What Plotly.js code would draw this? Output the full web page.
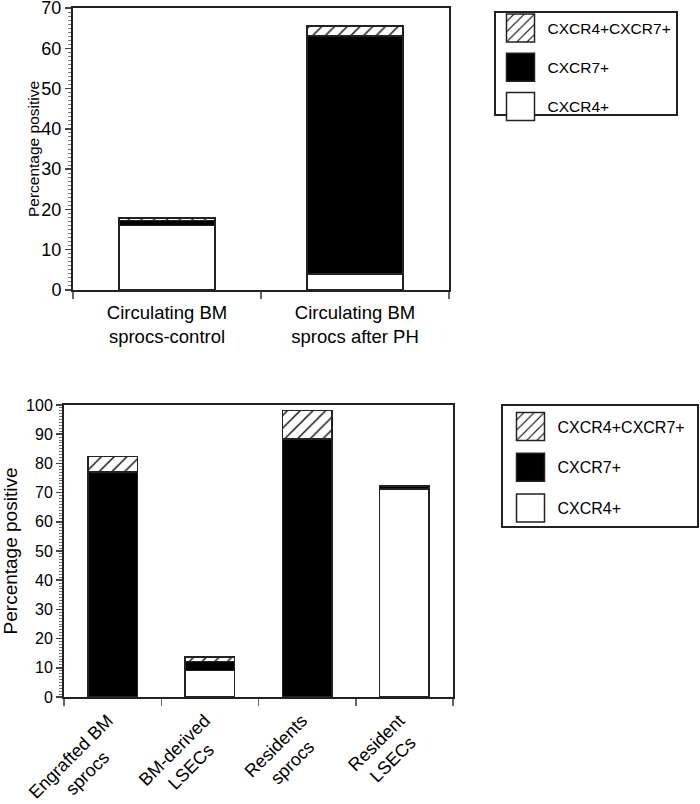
<!DOCTYPE html>
<html>
<head>
<meta charset="utf-8">
<script src="https://cdn.plot.ly/plotly-3.0.1.min.js"></script>
<style>html,body{margin:0;padding:0;background:#fff;}#chart{width:700px;height:804px;}</style>
</head>
<body>
<div id="chart"></div>
<script>
// ---- data ----
var topCategories = ['Circulating BM<br>sprocs-control', 'Circulating BM<br>sprocs after PH'];
var topCXCR4 = [16, 4];
var topCXCR7 = [1.2, 59];
var topBoth = [0.7, 2.5];

var bottomCategories = ['Engrafted BM<br>sprocs', 'BM-derived<br>LSECs', 'Residents<br>sprocs', 'Resident<br>LSECs'];
var bottomCXCR4 = [0, 9, 0, 71.3];
var bottomCXCR7 = [77, 3.2, 88.4, 0.9];
var bottomBoth = [5.3, 1.5, 9.7, 0.3];

var seriesNames = ['CXCR4+', 'CXCR7+', 'CXCR4+CXCR7+'];

// ---- styles ----
var FONT = 'Liberation Sans, Arial, Helvetica, sans-serif';
var lineCol = '#222';
function barTrace(x, y, name, kind, xa, ya, legend, rank) {
  var marker = {color: '#ffffff', line: {color: lineCol, width: 1.5}};
  if (kind === 'black') marker.color = '#000000';
  if (kind === 'hatch') marker.pattern = {shape: '/', size: 9, solidity: 0.15, fgcolor: '#000', bgcolor: '#fff', fillmode: 'replace'};
  return {type: 'bar', x: x, y: y, name: name, marker: marker, xaxis: xa, yaxis: ya,
          legend: legend, legendgroup: legend + name, legendrank: rank, hoverinfo: 'skip'};
}

var data = [
  barTrace(topCategories, topCXCR4, seriesNames[0], 'white', 'x', 'y', 'legend', 3),
  barTrace(topCategories, topCXCR7, seriesNames[1], 'black', 'x', 'y', 'legend', 2),
  barTrace(topCategories, topBoth, seriesNames[2], 'hatch', 'x', 'y', 'legend', 1),
  barTrace(bottomCategories, bottomCXCR4, seriesNames[0], 'white', 'x2', 'y2', 'legend2', 3),
  barTrace(bottomCategories, bottomCXCR7, seriesNames[1], 'black', 'x2', 'y2', 'legend2', 2),
  barTrace(bottomCategories, bottomBoth, seriesNames[2], 'hatch', 'x2', 'y2', 'legend2', 1)
];

var W = 700, H = 804;
function xd(a, b) { return [a / W, b / W]; }
function yd(top, bottom) { return [1 - bottom / H, 1 - top / H]; }

var yMinor = {dtick: 1, ticklen: 3, tickcolor: '#777', ticks: 'outside', tickwidth: 1};
var layout = {
  width: W, height: H,
  margin: {l: 0, r: 0, t: 0, b: 0, autoexpand: false},
  paper_bgcolor: '#fff', plot_bgcolor: '#fff',
  font: {family: FONT, color: '#000'},
  barmode: 'stack',
  bargap: 0.49,
  showlegend: true,
  xaxis: {domain: xd(73, 449), anchor: 'y', type: 'category', range: [-0.5, 1.5],
          showline: true, linecolor: lineCol, linewidth: 2, mirror: true,
          ticks: 'outside', tickson: 'boundaries', ticklen: 7, tickcolor: '#666', tickwidth: 1.5,
          ticklabelstandoff: 5,
          tickfont: {size: 18.5, family: FONT}, showgrid: false, zeroline: false},
  yaxis: {domain: yd(8, 290), anchor: 'x', range: [0, 70], dtick: 10,
          showline: true, linecolor: lineCol, linewidth: 2, mirror: true,
          ticks: 'outside', ticklen: 6, tickcolor: '#444', tickwidth: 1.5, minor: yMinor,
          ticklabeloverflow: 'allow',
          tickfont: {size: 18, family: FONT}, showgrid: false, zeroline: false,
          title: {text: 'Percentage positive', font: {size: 15.5, family: FONT}}},
  xaxis2: {domain: xd(64, 453), anchor: 'y2', type: 'category', range: [-0.5, 3.5],
          showline: true, linecolor: lineCol, linewidth: 2, mirror: true,
          ticks: 'outside', tickson: 'boundaries', ticklen: 7, tickcolor: '#666', tickwidth: 1.5,
          tickangle: -45, tickfont: {size: 18, family: FONT}, showgrid: false, zeroline: false},
  yaxis2: {domain: yd(405, 697), anchor: 'x2', range: [0, 100], dtick: 10,
          showline: true, linecolor: lineCol, linewidth: 2, mirror: true,
          ticks: 'outside', ticklen: 6, tickcolor: '#444', tickwidth: 1.5, minor: yMinor,
          ticklabeloverflow: 'allow',
          tickfont: {size: 16, family: FONT}, showgrid: false, zeroline: false,
          title: {text: 'Percentage positive', font: {size: 19, family: FONT}}},
  legend: {x: 492 / W, y: 1 - 10 / H, xanchor: 'left', yanchor: 'top',
           bordercolor: lineCol, borderwidth: 1.5, bgcolor: '#fff',
           font: {size: 15.5, family: FONT}, traceorder: 'grouped',
           tracegroupgap: 16, itemwidth: 44, itemclick: false, itemdoubleclick: false},
  legend2: {x: 502 / W, y: 1 - 408 / H, xanchor: 'left', yanchor: 'top',
           bordercolor: lineCol, borderwidth: 1.5, bgcolor: '#fff',
           font: {size: 16, family: FONT}, traceorder: 'grouped',
           tracegroupgap: 17, itemwidth: 44, itemclick: false, itemdoubleclick: false}
};

// target legend frame boxes in page pixels: [left, top, right, bottom]
var legendFrames = {legend: [495, 12, 677, 115], legend2: [502, 405, 698, 527]};
// nudges of the axis titles / rotated tick labels (px)
var titleShift = {ytitle: [7.5, 0], y2title: [0, 0]};
var x2LabelShift = [-5, 4];

function nudge(el, dx, dy) {
  if (el.dataset.origTransform === undefined) el.dataset.origTransform = el.getAttribute('transform') || '';
  el.setAttribute('transform', 'translate(' + dx + ',' + dy + ') ' + el.dataset.origTransform);
}

function finishDrawing() {
  var chart = document.getElementById('chart');
  var origin = chart.getBoundingClientRect();
  chart.querySelectorAll('g.legendpoints path').forEach(function (p) {
    p.setAttribute('d', 'M14,14H-14V-14H14Z');
  });
  Object.keys(legendFrames).forEach(function (id) {
    var g = chart.querySelector('g.infolayer > g.' + id);
    if (!g) return;
    var r = g.querySelector('rect.bg');
    if (!r) return;
    var b = r.getBoundingClientRect(), f = legendFrames[id];
    var x = parseFloat(r.getAttribute('x')) || 0, y = parseFloat(r.getAttribute('y')) || 0;
    var left = b.left - origin.left, top = b.top - origin.top;
    r.setAttribute('x', x + (f[0] - left));
    r.setAttribute('y', y + (f[1] - top));
    r.setAttribute('width', f[2] - f[0]);
    r.setAttribute('height', f[3] - f[1]);
  });
  Object.keys(titleShift).forEach(function (cls) {
    var t = chart.querySelector('text.' + cls);
    if (t) nudge(t, titleShift[cls][0], titleShift[cls][1]);
  });
  // centre the lines of the rotated multi-line tick labels
  chart.querySelectorAll('g.x2tick text').forEach(function (t) {
    var lines = t.querySelectorAll('tspan.line');
    if (lines.length >= 2) {
      var x = parseFloat(t.getAttribute('x'));
      var widths = [];
      lines.forEach(function (l) { widths.push(l.getComputedTextLength()); });
      var maxW = Math.max.apply(null, widths);
      lines.forEach(function (l, i) { l.setAttribute('x', x - (maxW - widths[i]) / 2); });
    }
    nudge(t, x2LabelShift[0], x2LabelShift[1]);
  });
}

Plotly.newPlot('chart', data, layout, {displayModeBar: false, staticPlot: true}).then(function (gd) {
  finishDrawing();
});
</script>
</body>
</html>
